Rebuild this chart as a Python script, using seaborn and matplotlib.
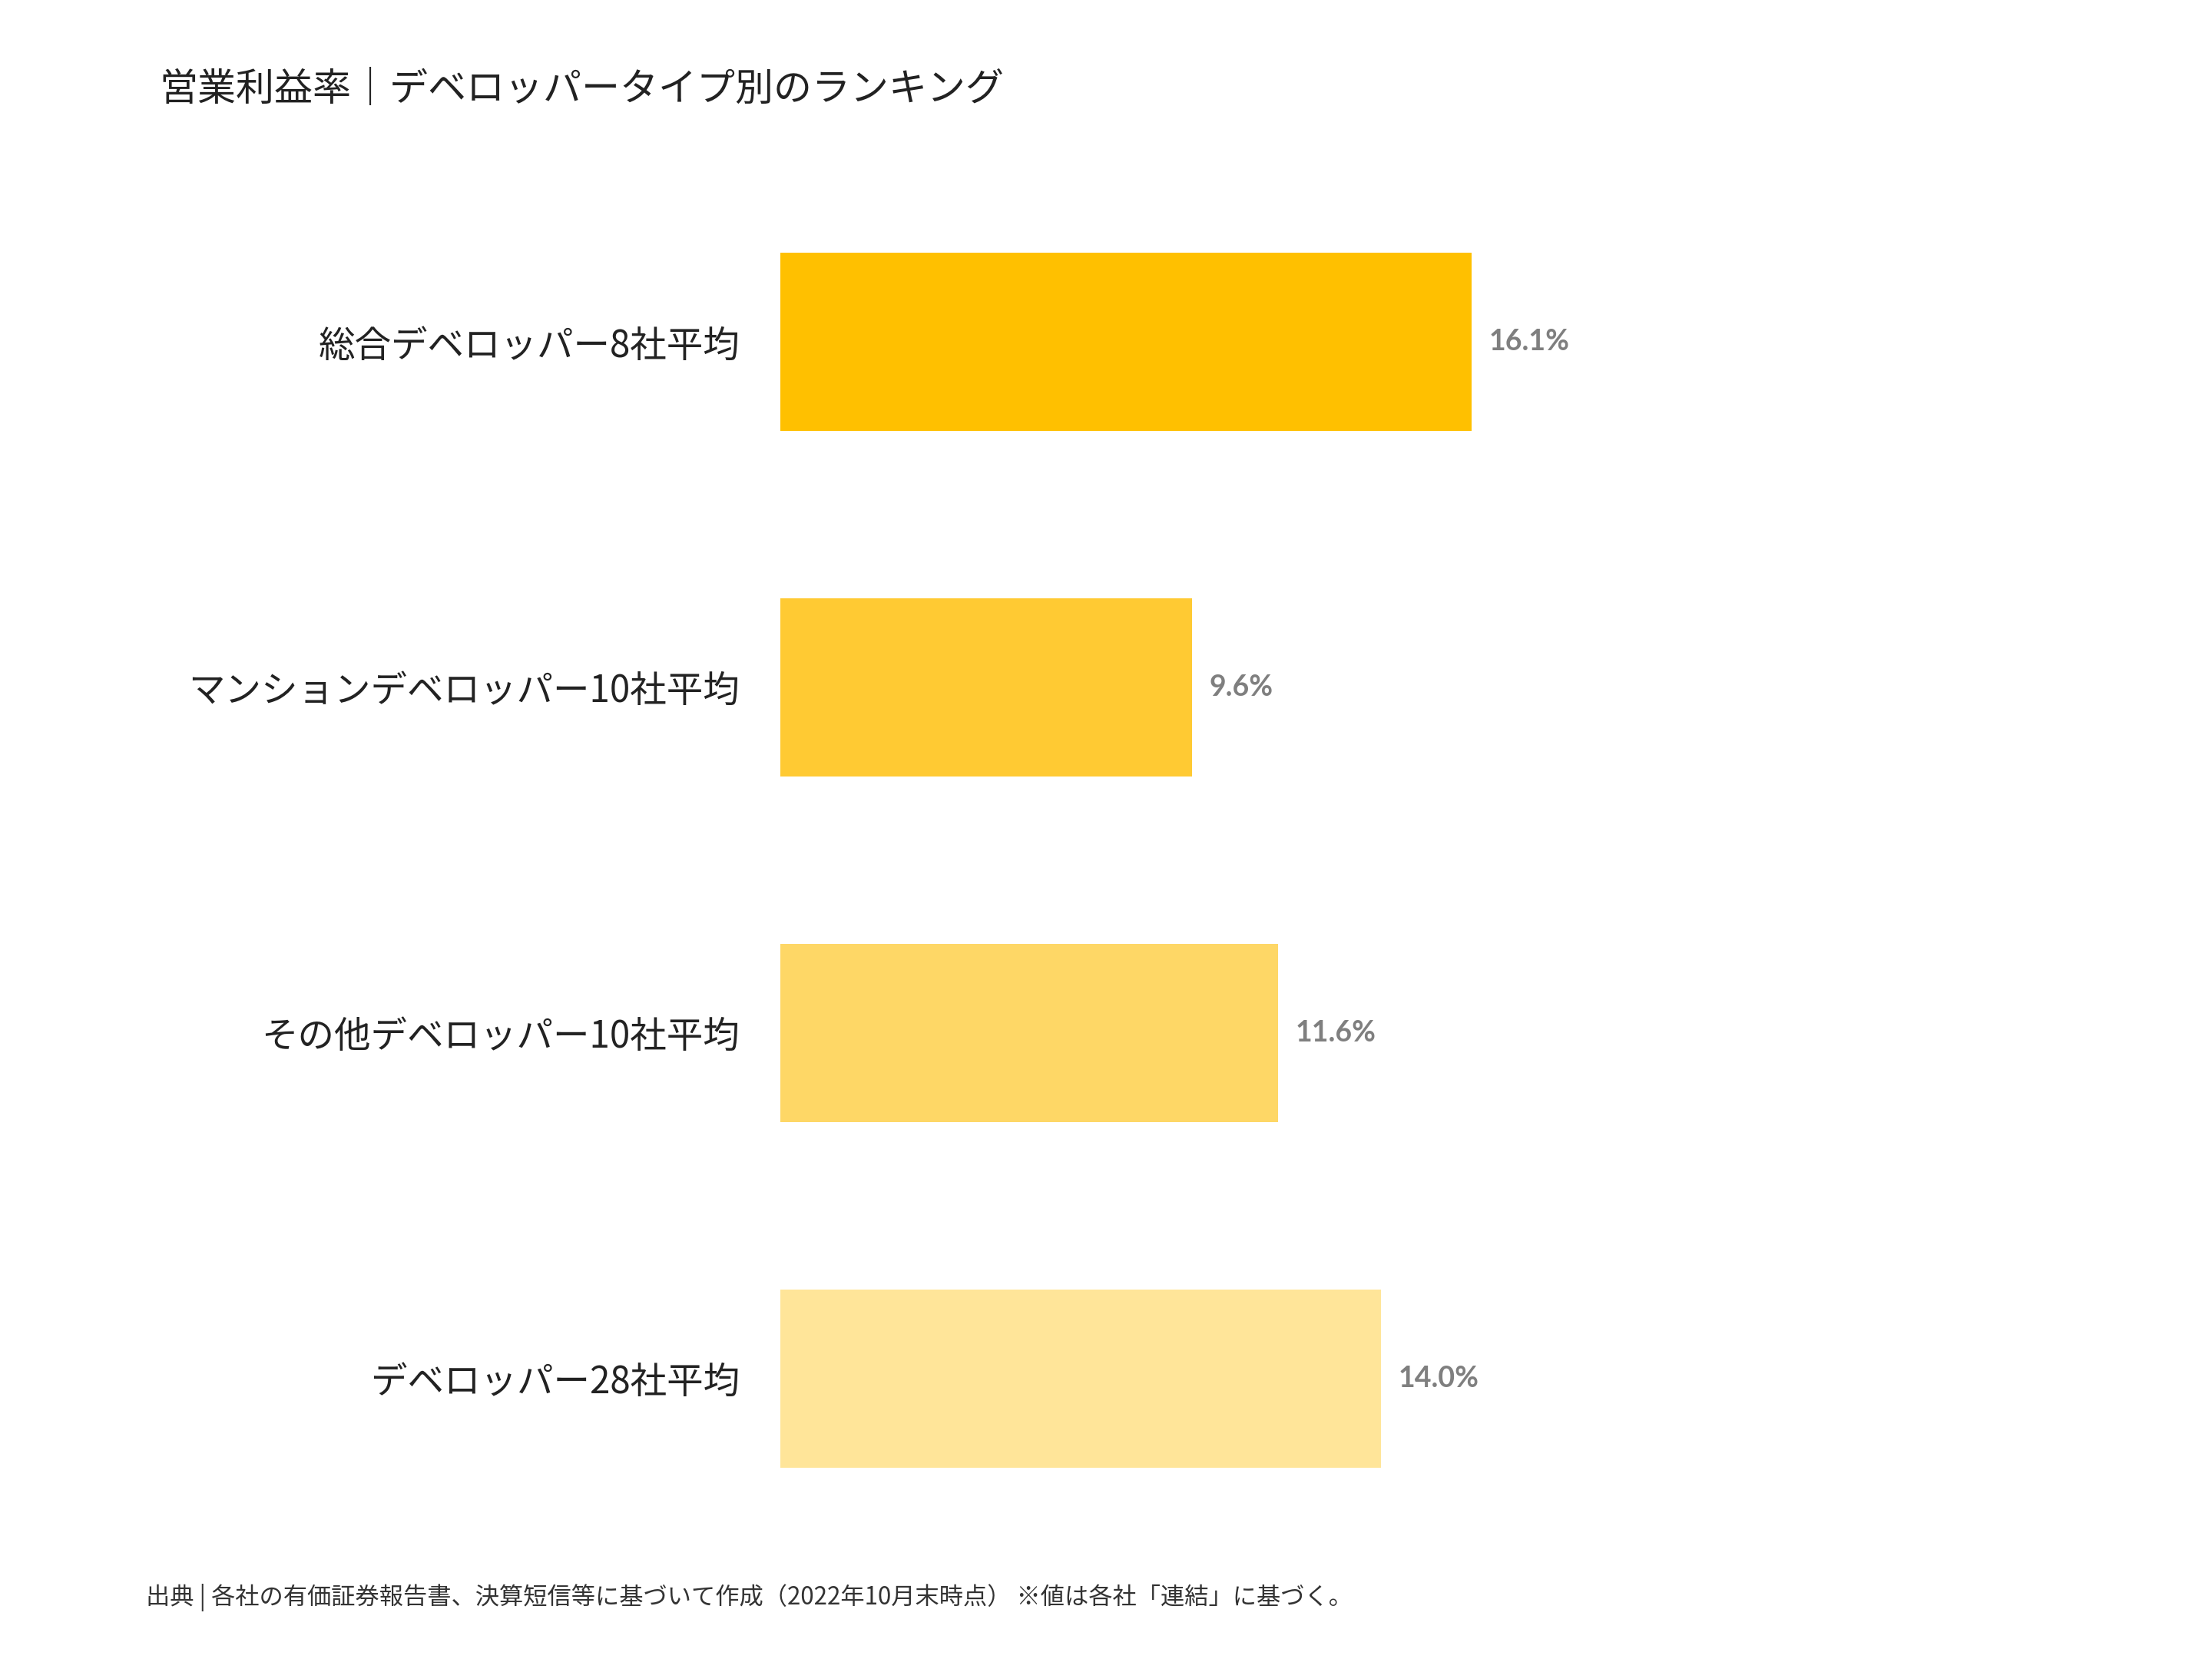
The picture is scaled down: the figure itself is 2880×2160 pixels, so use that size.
import matplotlib
matplotlib.use("Agg")
import matplotlib.pyplot as plt
import seaborn as sns
import pandas as pd

categories = ["総合デベロッパー8社平均", "マンションデベロッパー10社平均", "その他デベロッパー10社平均", "デベロッパー28社平均"]
values = [16.1, 9.6, 11.6, 14.0]
colors = ["#FFC000", "#FFCA33", "#FED766", "#FFE599"]
title = "営業利益率｜デベロッパータイプ別のランキング"
footer = "出典 | 各社の有価証券報告書、決算短信等に基づいて作成（2022年10月末時点） ※値は各社「連結」に基づく。"

df = pd.DataFrame({"cat": categories, "val": values})
jp = "Noto Sans CJK JP"

fig = plt.figure(figsize=(16, 12), dpi=180)
ax = fig.add_axes([0.3527, 0.065, 0.5823, 0.833])
sns.barplot(data=df, x="val", y="cat", hue="cat", palette=colors, legend=False,
            width=0.515, ax=ax, saturation=1)
ax.set_xlim(0, 30)
ax.set_ylim(3.5, -0.5)
for i, v in enumerate(values):
    ax.text(v + 0.4, i, f"{v:.1f}%", va="center", ha="left", fontsize=15,
            fontweight="bold", color="#7F7F7F", family="Lato")
ax.set_xlabel("")
ax.set_ylabel("")
ax.set_xticks([])
ax.tick_params(axis="y", length=0, pad=21)
for lab in ax.get_yticklabels():
    lab.set_fontfamily(jp)
    lab.set_fontsize(19)
    lab.set_color("#222222")
for s in ax.spines.values():
    s.set_visible(False)
fig.text(0.072, 0.946, title, fontsize=20, family=jp, va="center", ha="left", color="#222222")
fig.text(0.066, 0.037, footer, fontsize=12.5, family=jp, va="center", ha="left", color="#333333")
fig.savefig("out.png", dpi=180, facecolor="white")
